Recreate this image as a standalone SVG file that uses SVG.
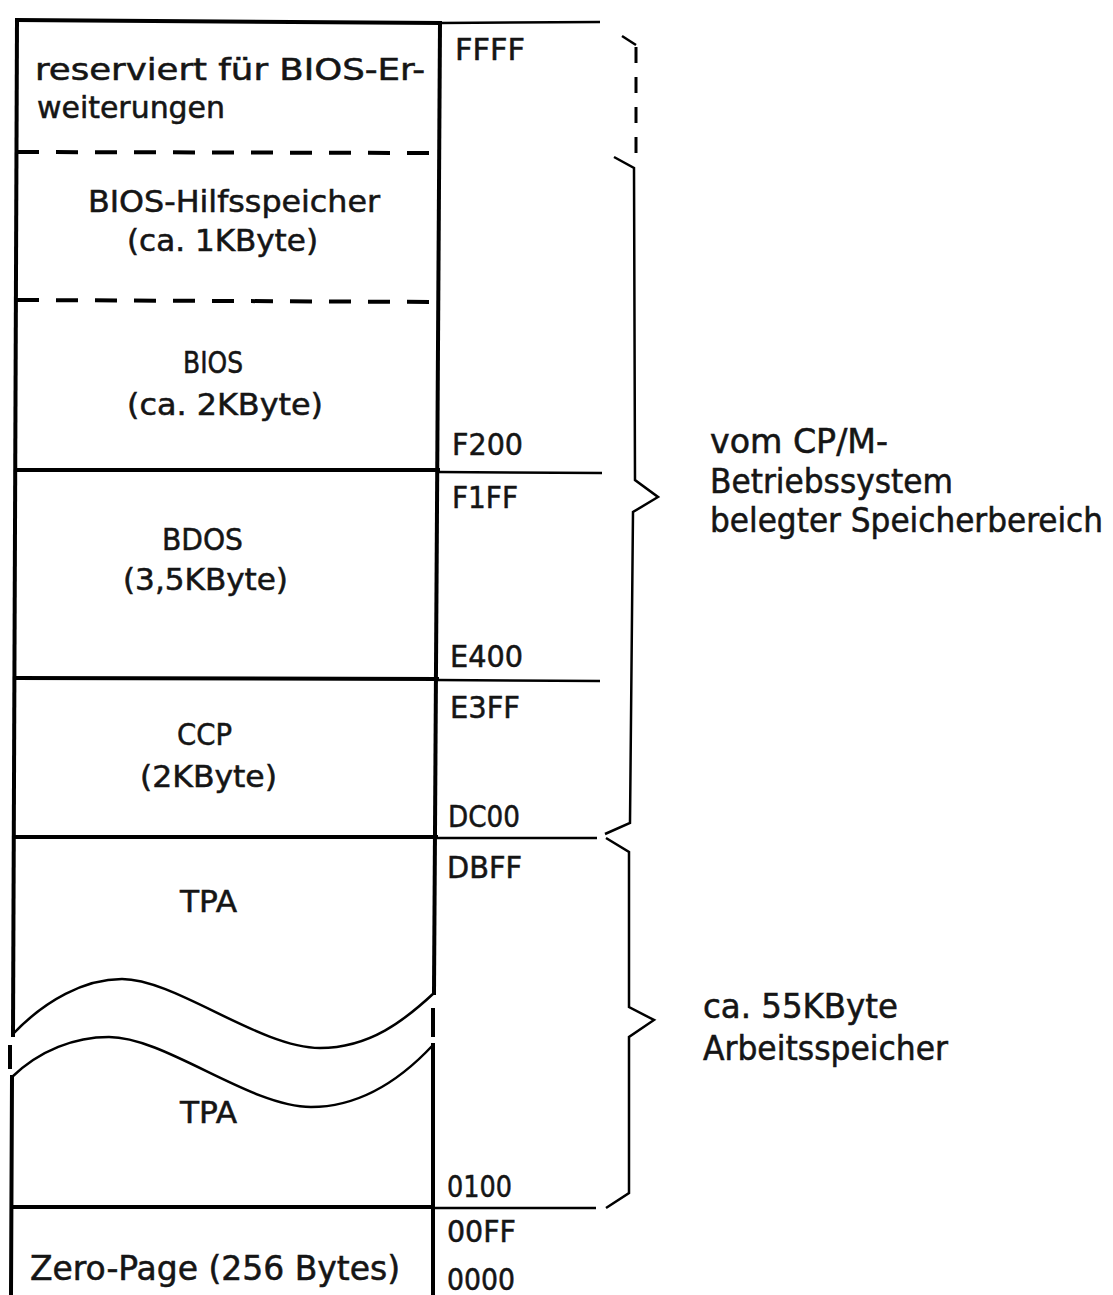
<svg xmlns="http://www.w3.org/2000/svg" width="1113" height="1295" viewBox="0 0 1113 1295">
<style>
.t{font-family:"DejaVu Sans Condensed","DejaVu Sans","Liberation Sans",sans-serif;font-stretch:condensed;fill:#151515;stroke:#151515;stroke-width:0.5;font-size:30px}
.a{font-size:31px}
.r{font-size:33px}
.thick{stroke:#000;stroke-width:4;fill:none;stroke-linecap:square}
.thin{stroke:#000;stroke-width:2.5;fill:none}
.dash{stroke:#000;stroke-width:4;fill:none;stroke-dasharray:22 17}
.brace{stroke:#000;stroke-width:2.5;fill:none;stroke-linejoin:miter}
.bdash{stroke:#000;stroke-width:3;fill:none;stroke-dasharray:16 14}
</style>
<rect width="1113" height="1295" fill="#fff"/>

<g id="memory-frame">
  <path class="thick" d="M17,20 L440,23"/>
  <path class="thick" d="M17,20 L13,1035"/>
  <path class="thick" d="M12,1077 L11,1295"/>
  <path class="thick" d="M440,23 L434,993"/>
  <path class="thick" d="M433,1045 L433,1295"/>
  <path class="dash" d="M17,152 L440,153"/>
  <path class="dash" d="M17,300 L440,302"/>
  <path class="thick" d="M16,470 L438,470"/>
  <path class="thick" d="M15,678 L437,679"/>
  <path class="thick" d="M14,837 L436,837"/>
  <path class="thick" d="M12,1207 L433,1207"/>
  <path class="thin" d="M12,1035 C45,1000 85,979 122,979 C175,979 260,1048 320,1048 C370,1048 405,1020 434,993"/>
  <path class="thin" d="M12,1077 C40,1050 75,1037 109,1037 C165,1037 250,1107 311,1107 C365,1107 405,1075 433,1045"/>
  <path class="thick" d="M10,1047 L10,1067"/>
  <path class="thick" d="M433,1010 L433,1035"/>
</g>

<g id="block-bios-ext">
  <text class="t" x="35" y="80" textLength="390" lengthAdjust="spacingAndGlyphs">reserviert für BIOS-Er-</text>
  <text class="t" x="37" y="118" textLength="188" lengthAdjust="spacingAndGlyphs">weiterungen</text>
</g>
<g id="block-bios-hilf">
  <text class="t" x="88" y="212" textLength="292" lengthAdjust="spacingAndGlyphs">BIOS-Hilfsspeicher</text>
  <text class="t" x="127" y="251" textLength="191" lengthAdjust="spacingAndGlyphs">(ca. 1KByte)</text>
</g>
<g id="block-bios">
  <text class="t" x="183" y="373" textLength="60" lengthAdjust="spacingAndGlyphs">BIOS</text>
  <text class="t" x="127" y="415" textLength="196" lengthAdjust="spacingAndGlyphs">(ca. 2KByte)</text>
</g>
<g id="block-bdos">
  <text class="t" x="162" y="550" textLength="81" lengthAdjust="spacingAndGlyphs">BDOS</text>
  <text class="t" x="123" y="590" textLength="165" lengthAdjust="spacingAndGlyphs">(3,5KByte)</text>
</g>
<g id="block-ccp">
  <text class="t" x="177" y="745" textLength="55" lengthAdjust="spacingAndGlyphs">CCP</text>
  <text class="t" x="140" y="787" textLength="137" lengthAdjust="spacingAndGlyphs">(2KByte)</text>
</g>
<g id="block-tpa">
  <text class="t" x="180" y="912" textLength="57" lengthAdjust="spacingAndGlyphs">TPA</text>
  <text class="t" x="180" y="1123" textLength="57" lengthAdjust="spacingAndGlyphs">TPA</text>
</g>
<g id="block-zero-page">
  <text class="t r" x="30" y="1280" textLength="370" lengthAdjust="spacingAndGlyphs">Zero-Page (256 Bytes)</text>
</g>

<g id="addresses">
  <text class="t a" x="455" y="60" textLength="70" lengthAdjust="spacingAndGlyphs">FFFF</text>
  <text class="t a" x="452" y="455" textLength="71" lengthAdjust="spacingAndGlyphs">F200</text>
  <text class="t a" x="452" y="508" textLength="66" lengthAdjust="spacingAndGlyphs">F1FF</text>
  <text class="t a" x="450" y="667" textLength="73" lengthAdjust="spacingAndGlyphs">E400</text>
  <text class="t a" x="450" y="718" textLength="70" lengthAdjust="spacingAndGlyphs">E3FF</text>
  <text class="t a" x="448" y="827" textLength="72" lengthAdjust="spacingAndGlyphs">DC00</text>
  <text class="t a" x="447" y="878" textLength="75" lengthAdjust="spacingAndGlyphs">DBFF</text>
  <text class="t a" x="447" y="1197" textLength="65" lengthAdjust="spacingAndGlyphs">0100</text>
  <text class="t a" x="447" y="1242" textLength="69" lengthAdjust="spacingAndGlyphs">00FF</text>
  <text class="t a" x="447" y="1290" textLength="68" lengthAdjust="spacingAndGlyphs">0000</text>
</g>

<g id="connectors">
  <path class="thin" d="M440,23 L600,22"/>
  <path class="thin" d="M438,472 L602,473"/>
  <path class="thin" d="M437,680 L600,681"/>
  <path class="thin" d="M436,838 L597,838"/>
  <path class="thin" d="M433,1208 L596,1208"/>
  <path class="brace" d="M622,36 L636,45"/>
  <path class="bdash" d="M636,47 L636,157"/>
  <path class="brace" d="M614,157 L634,168 L635,480 L658,497 L633,512 L630,823 L605,834"/>
  <path class="brace" d="M606,838 L629,852 L629,1007 L654,1020 L629,1037 L629,1193 L606,1208"/>
</g>

<g id="label-os">
  <text class="t r" x="710" y="453" textLength="178" lengthAdjust="spacingAndGlyphs">vom CP/M-</text>
  <text class="t r" x="710" y="493" textLength="243" lengthAdjust="spacingAndGlyphs">Betriebssystem</text>
  <text class="t r" x="710" y="532" textLength="393" lengthAdjust="spacingAndGlyphs">belegter Speicherbereich</text>
</g>
<g id="label-tpa">
  <text class="t r" x="703" y="1018" textLength="195" lengthAdjust="spacingAndGlyphs">ca. 55KByte</text>
  <text class="t r" x="703" y="1060" textLength="245" lengthAdjust="spacingAndGlyphs">Arbeitsspeicher</text>
</g>
</svg>
